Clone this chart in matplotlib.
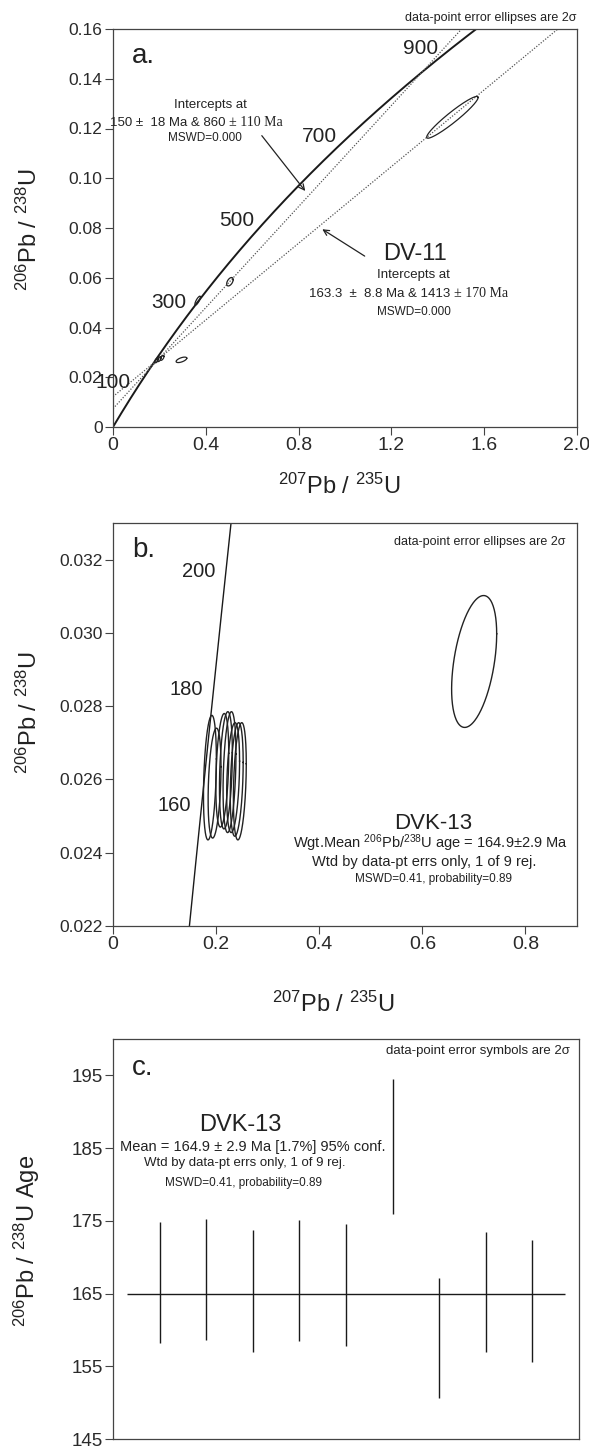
import numpy as np
import matplotlib
matplotlib.use('Agg')
import matplotlib.pyplot as plt

plt.rcParams['font.family'] = ['Liberation Sans', 'DejaVu Sans']
plt.rcParams['mathtext.fontset'] = 'custom'
plt.rcParams['mathtext.rm'] = 'Liberation Sans'
plt.rcParams['mathtext.it'] = 'Liberation Sans:italic'
plt.rcParams['mathtext.bf'] = 'Liberation Sans:bold'

# decay constants (per year)
L238 = 1.55125e-10
L235 = 9.8485e-10

# ---------------- data ----------------
# panel a (DV-11 / discordia)
a_age_ticks = [100, 300, 500, 700, 900]
a_intercepts = [(150.0, 860.0), (163.3, 1413.0)]
a_ell_x = [1.463, 0.504, 0.365, 0.188, 0.200, 0.212, 0.295]
a_ell_ex = [0.111, 0.014, 0.012, 0.008, 0.008, 0.008, 0.023]
a_ell_y = [0.1245, 0.0584, 0.0508, 0.0268, 0.0273, 0.0278, 0.0270]
a_ell_ey = [0.0084, 0.0017, 0.0018, 0.0010, 0.0010, 0.0010, 0.0011]
a_ell_rho = [0.95, 0.5, 0.8, 0.6, 0.6, 0.6, 0.6]

# panel b (DVK-13 concordia)
b_age_ticks = [160, 180, 200]
b_ell_x = [0.188, 0.197, 0.212, 0.219, 0.226, 0.233, 0.240, 0.246, 0.7005]
b_ell_ex = [0.0125, 0.0125, 0.0125, 0.0125, 0.0125, 0.0125, 0.0125, 0.0125, 0.0437]
b_ell_y = [0.02605, 0.02590, 0.02625, 0.02625, 0.02620, 0.02605, 0.02600, 0.02595, 0.02922]
b_ell_ey = [0.00170, 0.00150, 0.00155, 0.00160, 0.00165, 0.00150, 0.00155, 0.00160, 0.00180]
b_ell_rho = [0.3, 0.3, 0.3, 0.3, 0.3, 0.3, 0.3, 0.3, 0.42]

# panel c (weighted mean 206Pb/238U ages)
c_idx = [1, 2, 3, 4, 5, 6, 7, 8, 9]
c_low = [158.2, 158.6, 157.0, 158.5, 157.8, 176.0, 150.6, 156.9, 155.6]
c_high = [174.8, 175.2, 173.7, 175.1, 174.5, 194.5, 167.1, 173.4, 172.3]
c_mean = 164.9

# ---------------- helpers ----------------
def conc(t_ma):
    t = np.asarray(t_ma, dtype=float) * 1e6
    return np.exp(L235 * t) - 1.0, np.exp(L238 * t) - 1.0

def ellipse(ax, x, ex, y, ey, rho, lw=0.9):
    t = np.linspace(0, 2 * np.pi, 200)
    dx = ex * np.cos(t)
    dy = ey * (rho * np.cos(t) + np.sqrt(1 - rho ** 2) * np.sin(t))
    ax.plot(x + dx, y + dy, color='#222222', lw=lw)

SP = '#444444'
TXT = '#222222'

def style(ax):
    for s in ax.spines.values():
        s.set_color(SP)
        s.set_linewidth(0.9)
    ax.tick_params(direction='out', length=6, width=0.8, color=SP, pad=1.5,
                   labelcolor='#2a2a2a')
    ax.tick_params(axis='y', labelsize=12.5)
    ax.tick_params(axis='x', labelsize=14)

W, H = 589, 1449
def rect(l, t, r, b):
    return [l / W, 1 - b / H, (r - l) / W, (b - t) / H]

fig = plt.figure(figsize=(W / 100, H / 100), dpi=100)
fig.patch.set_facecolor('white')

xlab = r'$^{207}$Pb / $^{235}$U'
ylab = r'$^{206}$Pb / $^{238}$U'

# ================= panel a =================
ax = fig.add_axes(rect(113, 29, 577, 427))
style(ax)
ax.set_xlim(0, 2.0)
ax.set_ylim(0, 0.16)
ax.set_xticks([0, 0.4, 0.8, 1.2, 1.6, 2.0], ['0', '0.4', '0.8', '1.2', '1.6', '2.0'])
ax.set_yticks([0, 0.02, 0.04, 0.06, 0.08, 0.10, 0.12, 0.14, 0.16],
              ['0', '0.02', '0.04', '0.06', '0.08', '0.10', '0.12', '0.14', '0.16'])
tt = np.linspace(0, 1000, 600)
cx, cy = conc(tt)
ax.plot(cx, cy, color='#1a1a1a', lw=1.4)
for t1, t2 in a_intercepts:
    (x1, x2), (y1, y2) = conc([t1, t2])
    s = (y2 - y1) / (x2 - x1)
    xs = np.array([0.0, 2.0])
    ax.plot(xs, y1 + s * (xs - x1), color='#555555', lw=0.9, ls=(0, (1, 1.3)))
for i in range(len(a_ell_x)):
    ellipse(ax, a_ell_x[i], a_ell_ex[i], a_ell_y[i], a_ell_ey[i], a_ell_rho[i])
ax_, ay_ = conc(a_age_ticks)
for t, px, py in zip(a_age_ticks, ax_, ay_):
    ax.annotate(str(t), (px, py), xytext=(-4.5, 4), textcoords='offset points',
                ha='right', va='center', fontsize=15, color=TXT, annotation_clip=False)
ax.text(0.082, 0.149, 'a.', fontsize=20, ha='left', va='center', color=TXT)
ax.text(0.999, 1.028, 'data-point error ellipses are 2σ', transform=ax.transAxes,
        ha='right', va='center', fontsize=9, color=TXT)
ax.text(0.422, 0.1296, 'Intercepts at', ha='center', va='center', fontsize=9.5, color=TXT)
ax.text(0.50, 0.1224, '150 ±  18 Ma & 860 ', ha='right', va='center', fontsize=9.5, color=TXT)
ax.text(0.50, 0.1224, '± 110 Ma', ha='left', va='center', fontsize=10,
        family='Liberation Serif', color=TXT)
ax.text(0.397, 0.116, 'MSWD=0.000', ha='center', va='center', fontsize=8.5, color=TXT)
ax.annotate('', xy=(0.836, 0.094), xytext=(0.634, 0.118),
            arrowprops=dict(arrowstyle='->', color='#222222', lw=0.9))
ax.text(1.300, 0.0696, 'DV-11', ha='center', va='center', fontsize=17, color=TXT)
ax.text(1.297, 0.0612, 'Intercepts at', ha='center', va='center', fontsize=9.5, color=TXT)
ax.text(1.47, 0.0536, '163.3  ±  8.8 Ma & 1413 ', ha='right', va='center', fontsize=9.5, color=TXT)
ax.text(1.47, 0.0536, '± 170 Ma', ha='left', va='center', fontsize=10,
        family='Liberation Serif', color=TXT)
ax.text(1.297, 0.0464, 'MSWD=0.000', ha='center', va='center', fontsize=8.5, color=TXT)
ax.annotate('', xy=(0.892, 0.0801), xytext=(1.095, 0.0681),
            arrowprops=dict(arrowstyle='->', color='#222222', lw=0.9))
ax.set_xlabel(xlab, fontsize=17, color=TXT, va='top')
ax.xaxis.set_label_coords(0.487, -0.118)
ax.set_ylabel(ylab, fontsize=17, color=TXT)
ax.yaxis.set_label_coords(-0.153, 0.495)

# ================= panel b =================
ax = fig.add_axes(rect(113, 523, 577, 926))
style(ax)
ax.set_xlim(0, 0.9)
ax.set_ylim(0.022, 0.033)
ax.set_xticks([0, 0.2, 0.4, 0.6, 0.8], ['0', '0.2', '0.4', '0.6', '0.8'])
ax.set_yticks([0.022, 0.024, 0.026, 0.028, 0.030, 0.032],
              ['0.022', '0.024', '0.026', '0.028', '0.030', '0.032'])
tt = np.linspace(130, 220, 300)
cx, cy = conc(tt)
ax.plot(cx, cy, color='#1a1a1a', lw=1.0)
for i in range(len(b_ell_x)):
    ellipse(ax, b_ell_x[i], b_ell_ex[i], b_ell_y[i], b_ell_ey[i], b_ell_rho[i], lw=1.0)
bx_, by_ = conc(b_age_ticks)
for t, px, py in zip(b_age_ticks, bx_, by_):
    ax.annotate(str(t), (px, py), xytext=(-7, 4), textcoords='offset points',
                ha='right', va='center', fontsize=14.5, color=TXT, annotation_clip=False)
ax.text(0.037, 0.03225, 'b.', fontsize=20, ha='left', va='center', color=TXT)
ax.text(0.8777, 0.03249, 'data-point error ellipses are 2σ', ha='right', va='center',
        fontsize=9, color=TXT)
ax.text(0.621, 0.02481, 'DVK-13', ha='center', va='center', fontsize=16, color=TXT)
ax.text(0.6155, 0.02425, r'Wgt.Mean $^{206}$Pb/$^{238}$U age = 164.9±2.9 Ma',
        ha='center', va='center', fontsize=10.5, color=TXT)
ax.text(0.604, 0.02375, 'Wtd by data-pt errs only, 1 of 9 rej.', ha='center', va='center',
        fontsize=10.5, color=TXT)
ax.text(0.621, 0.02329, 'MSWD=0.41, probability=0.89', ha='center', va='center',
        fontsize=8.5, color=TXT)
ax.set_xlabel(xlab, fontsize=17, color=TXT, va='top')
ax.xaxis.set_label_coords(0.474, -0.164)
ax.set_ylabel(ylab, fontsize=17, color=TXT)
ax.yaxis.set_label_coords(-0.153, 0.53)

# ================= panel c =================
ax = fig.add_axes(rect(113, 1039, 579, 1439))
style(ax)
ax.set_xlim(0, 10)
ax.set_ylim(145, 200)
ax.set_xticks([])
ax.set_yticks([145, 155, 165, 175, 185, 195], ['145', '155', '165', '175', '185', '195'])
ax.tick_params(axis='y', labelsize=13.5)
ax.vlines(c_idx, c_low, c_high, color='#1a1a1a', lw=1.0)
ax.hlines(c_mean, 0.3, 9.7, color='#1a1a1a', lw=1.0)
ax.text(0.41, 196.0, 'c.', fontsize=20, ha='left', va='center', color=TXT)
ax.text(9.81, 198.3, 'data-point error symbols are 2σ', ha='right', va='center',
        fontsize=9.5, color=TXT)
ax.text(2.73, 188.2, 'DVK-13', ha='center', va='center', fontsize=17, color=TXT)
ax.text(2.99, 185.1, 'Mean = 164.9 ± 2.9 Ma [1.7%] 95% conf.', ha='center', va='center',
        fontsize=10.5, color=TXT)
ax.text(2.82, 182.9, 'Wtd by data-pt errs only, 1 of 9 rej.', ha='center', va='center',
        fontsize=9.5, color=TXT)
ax.text(2.80, 180.2, 'MSWD=0.41, probability=0.89', ha='center', va='center',
        fontsize=8.5, color=TXT)
ax.set_ylabel(ylab + ' Age', fontsize=17, color=TXT)
ax.yaxis.set_label_coords(-0.153, 0.495)

fig.savefig('out.png', dpi=100, facecolor='white')
